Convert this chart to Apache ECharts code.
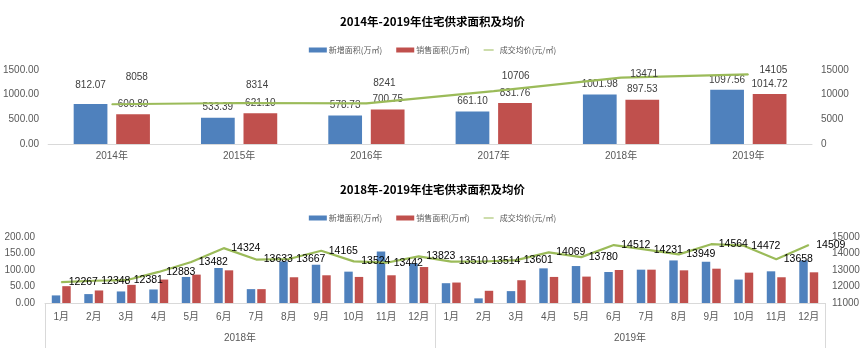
<!DOCTYPE html>
<html>
<head>
<meta charset="utf-8">
<script src="https://cdn.jsdelivr.net/npm/echarts@6/dist/echarts.min.js"></script>
<style>
  html, body { margin: 0; padding: 0; background: #ffffff; }
  #chart { width: 865px; height: 348px; }
</style>
</head>
<body>
<div id="chart"></div>
<script>
// Annual supply / sales / average price
const years = ['2014年', '2015年', '2016年', '2017年', '2018年', '2019年'];
const newArea = [812.07, 533.39, 578.73, 661.10, 1001.98, 1097.56];
const soldArea = [600.80, 621.10, 700.75, 831.76, 897.53, 1014.72];
const avgPrice = [8058, 8314, 8241, 10706, 13471, 14105];

// Monthly figures 2018-2019
const months = ['1月', '2月', '3月', '4月', '5月', '6月', '7月', '8月', '9月', '10月', '11月', '12月',
                '1月', '2月', '3月', '4月', '5月', '6月', '7月', '8月', '9月', '10月', '11月', '12月'];
const monthGroups = ['2018年', '2019年'];
const newAreaMonthly = [23, 27, 35, 41, 79, 106, 42, 126, 116, 95, 156, 120,
                        60, 14, 36, 105, 112, 94, 101, 129, 125, 71, 96, 129];
const soldAreaMonthly = [51, 38, 55, 71, 86, 99, 42, 78, 84, 79, 84, 109,
                         62, 37, 69, 79, 80, 100, 101, 99, 104, 92, 78, 93];
const avgPriceMonthly = [12267, 12348, 12381, 12883, 13482, 14324, 13633, 13667, 14165, 13524, 13442, 13823,
                         13510, 13514, 13601, 14069, 13780, 14512, 14231, 13949, 14564, 14472, 13658, 14509];

// Series names
const nameNew = '新增面积(万㎡)';
const nameSold = '销售面积(万㎡)';
const namePrice = '成交均价(元/㎡)';

const BLUE = '#4F81BD', RED = '#C0504D', GREEN = '#9BBB59';
const NUM_FONT = "'Liberation Sans', 'Noto Sans CJK SC', sans-serif";
const CJK_FONT = "'Noto Sans CJK SC', 'Liberation Sans', sans-serif";
const AXIS_GRAY = '#d9d9d9';
const TEXT_GRAY = '#595959';

// Nudges for the annual price labels (dx, dy from the point)
const priceLabelNudge = [[25, -27], [18, -18], [18, -20], [22, -15], [23, -3], [25, -4]];

const chart = echarts.init(document.getElementById('chart'), null, { renderer: 'canvas' });

const fmt2 = v => Number(v).toFixed(2);
const plain = v => String(v);

// thin horizontal stroke used as the legend icon of the price line
const LINE_ICON = 'path://M0,0L0,0M0,4L20,4L20,6L0,6ZM0,10L0,10';

const legendBase = {
  itemWidth: 18,
  itemHeight: 5,
  itemGap: 14,
  textStyle: { fontFamily: CJK_FONT, fontSize: 8, color: TEXT_GRAY, padding: [0, 0, 0, -3] },
  data: [
    { name: nameNew, icon: 'rect' },
    { name: nameSold, icon: 'rect' },
    { name: namePrice, icon: LINE_ICON, itemStyle: { color: GREEN } }
  ]
};

const option = {
  backgroundColor: '#ffffff',
  animation: false,
  title: [
    {
      text: '2014年-2019年住宅供求面积及均价',
      left: 'center', top: 11,
      textStyle: { fontFamily: CJK_FONT, fontSize: 11.5, fontWeight: 'bold', color: '#000' }
    },
    {
      text: '2018年-2019年住宅供求面积及均价',
      left: 'center', top: 179,
      textStyle: { fontFamily: CJK_FONT, fontSize: 11.5, fontWeight: 'bold', color: '#000' }
    }
  ],
  legend: [
    Object.assign({}, legendBase, { top: 41, left: 'center' }),
    Object.assign({}, legendBase, { top: 209, left: 'center' })
  ],
  grid: [
    { left: 46, right: 53, top: 70, height: 74 },
    { left: 45, right: 40, top: 237, height: 66 }
  ],
  xAxis: [
    {
      type: 'category', gridIndex: 0, data: years, position: 'bottom',
      axisLine: { lineStyle: { color: AXIS_GRAY, width: 1 } },
      axisTick: { show: false },
      axisLabel: { fontFamily: NUM_FONT, fontSize: 10, color: TEXT_GRAY, margin: 7 }
    },
    {
      type: 'category', gridIndex: 1, data: months, position: 'bottom',
      axisLine: { lineStyle: { color: AXIS_GRAY, width: 1 } },
      axisTick: { show: false },
      axisLabel: { fontFamily: NUM_FONT, fontSize: 10, color: TEXT_GRAY, margin: 9, interval: 0 }
    },
    {
      type: 'category', gridIndex: 1, data: monthGroups, position: 'bottom',
      axisLine: { show: false },
      axisTick: { show: true, length: 45, interval: 0, lineStyle: { color: AXIS_GRAY } },
      axisLabel: { fontFamily: NUM_FONT, fontSize: 10, color: TEXT_GRAY, margin: 30 }
    }
  ],
  yAxis: [
    {
      type: 'value', gridIndex: 0, position: 'left', min: 0, max: 1500, interval: 500,
      axisLine: { show: false }, axisTick: { show: false }, splitLine: { show: false },
      axisLabel: { fontFamily: NUM_FONT, fontSize: 10, color: TEXT_GRAY, margin: 9, formatter: fmt2 }
    },
    {
      type: 'value', gridIndex: 0, position: 'right', min: 0, max: 15000, interval: 5000,
      axisLine: { show: false }, axisTick: { show: false }, splitLine: { show: false },
      axisLabel: { fontFamily: NUM_FONT, fontSize: 10, color: TEXT_GRAY, margin: 9, formatter: plain }
    },
    {
      type: 'value', gridIndex: 1, position: 'left', min: 0, max: 200, interval: 50,
      axisLine: { show: false }, axisTick: { show: false }, splitLine: { show: false },
      axisLabel: { fontFamily: NUM_FONT, fontSize: 10, color: TEXT_GRAY, margin: 10, formatter: fmt2 }
    },
    {
      type: 'value', gridIndex: 1, position: 'right', min: 11000, max: 15000, interval: 1000,
      axisLine: { show: false }, axisTick: { show: false }, splitLine: { show: false },
      axisLabel: { fontFamily: NUM_FONT, fontSize: 10, color: TEXT_GRAY, margin: 7, formatter: plain }
    }
  ],
  series: [
    // Annual chart
    {
      name: nameNew, type: 'bar', xAxisIndex: 0, yAxisIndex: 0,
      barWidth: '26.5%', barGap: '26%',
      itemStyle: { color: BLUE },
      label: { show: true, position: 'top', distance: 5, formatter: p => fmt2(p.value),
               fontFamily: NUM_FONT, fontSize: 10, color: '#404040' },
      data: newArea.map((v, i) => i === 0 ? { value: v, label: { offset: [0, -9] } } : v)
    },
    {
      name: nameSold, type: 'bar', xAxisIndex: 0, yAxisIndex: 0,
      barWidth: '26.5%', barGap: '26%',
      itemStyle: { color: RED },
      label: { show: true, position: 'top', distance: 5, formatter: p => fmt2(p.value),
               fontFamily: NUM_FONT, fontSize: 10, color: '#404040' },
      data: soldArea
    },
    {
      name: namePrice, type: 'line', xAxisIndex: 0, yAxisIndex: 1,
      symbol: 'circle', symbolSize: 1, showSymbol: true,
      itemStyle: { color: GREEN },
      lineStyle: { color: GREEN, width: 2.2 },
      label: { show: true, position: 'inside', fontFamily: NUM_FONT, fontSize: 10, color: '#404040' },
      data: avgPrice.map((v, i) => ({ value: v, label: { offset: priceLabelNudge[i] } })),
      z: 3
    },
    // Monthly chart
    {
      name: nameNew, type: 'bar', xAxisIndex: 1, yAxisIndex: 2,
      barWidth: '26%', barGap: '24%',
      itemStyle: { color: BLUE },
      data: newAreaMonthly
    },
    {
      name: nameSold, type: 'bar', xAxisIndex: 1, yAxisIndex: 2,
      barWidth: '26%', barGap: '24%',
      itemStyle: { color: RED },
      data: soldAreaMonthly
    },
    {
      name: namePrice, type: 'line', xAxisIndex: 1, yAxisIndex: 3,
      symbol: 'circle', symbolSize: 1, showSymbol: true,
      itemStyle: { color: GREEN },
      lineStyle: { color: GREEN, width: 2.2 },
      label: { show: true, position: 'right', distance: 7, fontFamily: NUM_FONT, fontSize: 10.5, color: '#000' },
      data: avgPriceMonthly,
      z: 3
    }
  ]
};

chart.setOption(option);
</script>
</body>
</html>
